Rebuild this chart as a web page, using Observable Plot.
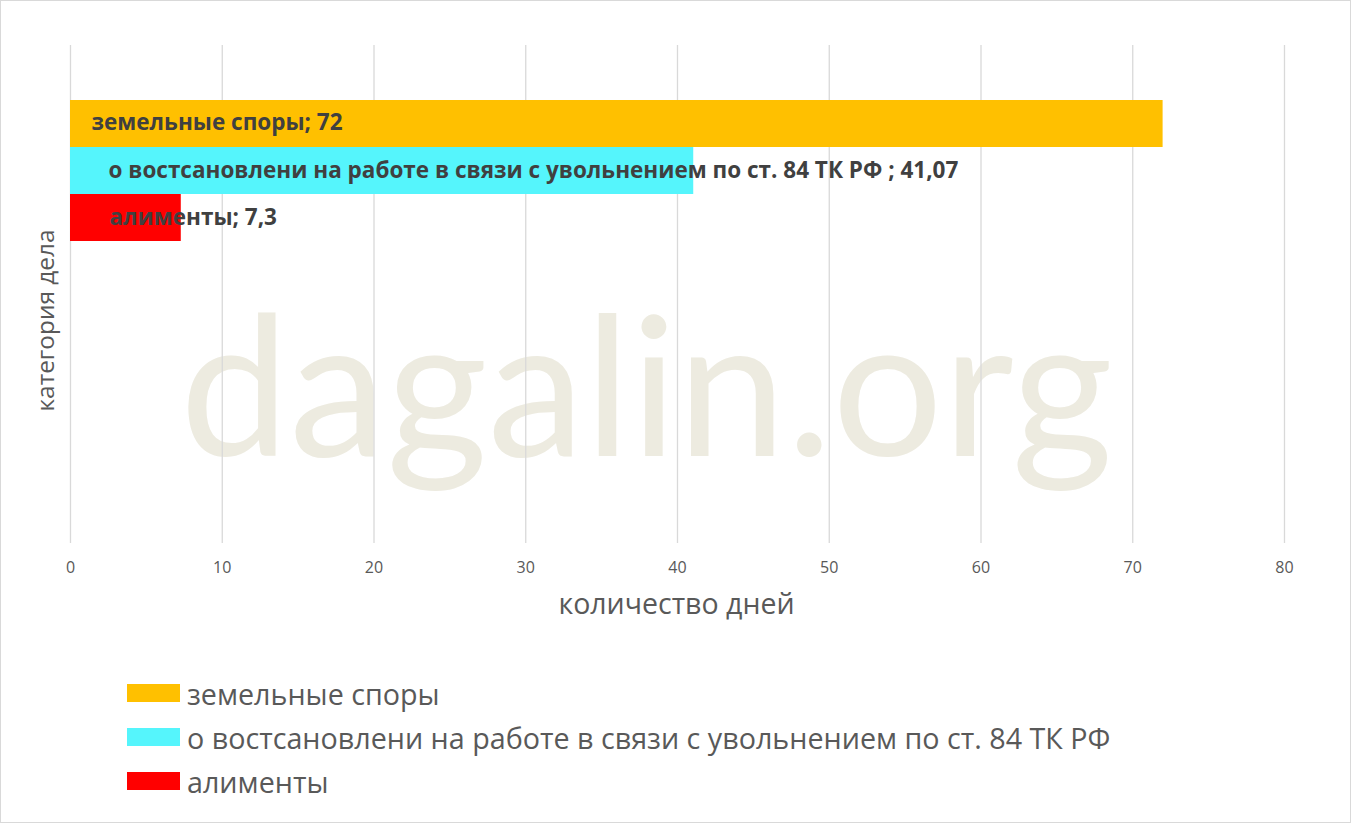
<!DOCTYPE html>
<html>
<head>
<meta charset="utf-8">
<script src="https://cdn.jsdelivr.net/npm/d3@7"></script>
<script src="https://cdn.jsdelivr.net/npm/@observablehq/plot@0.6"></script>
<style>
  html, body { margin: 0; padding: 0; background: #fff; }
  #wrap { position: relative; width: 1351px; height: 823px; background: #fff; overflow: hidden; }
  #frame { position: absolute; left: 0; top: 0; width: 1351px; height: 823px; box-sizing: border-box; border: 1px solid #d9d9d9; pointer-events: none; }
  #legend { position: absolute; left: 127px; top: 671px; font-family: "Open Sans", sans-serif; font-size: 28.7px; color: #595959; }
  .row { display: flex; align-items: center; height: 44px; }
  .sw { width: 53px; height: 18px; margin-right: 7px; flex: none; }
</style>
</head>
<body>
<div id="wrap">
  <div id="chart"></div>
  <div id="legend"></div>
  <div id="frame"></div>
</div>
<script>
const categories = [
  "земельные споры",
  "о востсановлени на работе в связи с увольнением по ст. 84 ТК РФ ",
  "алименты"
];
const values = [72, 41.07, 7.3];
const colors = ["#FFC000", "#55F5FC", "#FF0000"];
const xTicks = [0, 10, 20, 30, 40, 50, 60, 70, 80];
const xTitle = "количество дней";
const yTitle = "категория дела";
const watermark = "dagalin.org";

const data = categories.map((c, i) => ({category: c, value: values[i], color: colors[i]}));
const fmt = v => String(v).replace(".", ",");
const labelOf = d => `${d.category}; ${fmt(d.value)}`;

const labelStyle = {fontSize: 22.5, fontWeight: "bold", fill: "#404040", textAnchor: "start"};

const chart = Plot.plot({
  width: 1351,
  height: 640,
  marginLeft: 70,
  marginRight: 67,
  marginTop: 45,
  marginBottom: 97,
  style: {fontFamily: "'Open Sans', sans-serif", background: "transparent"},
  x: {domain: [0, 80], axis: null},
  y: {domain: categories, range: [99, 241], padding: 0, axis: null},
  marks: [
    Plot.text([watermark], {frameAnchor: "middle", text: d => d, fontSize: 195, fontFamily: "Lato, 'Open Sans', sans-serif", fill: "#EDEBE0", dx: -31, dy: 99}),
    Plot.ruleX(xTicks, {stroke: "#d9d9d9", strokeWidth: 1.3}),
    Plot.barX(data, {x: "value", y: "category", fill: "color"}),
    Plot.axisX(xTicks, {ticks: xTicks, tickSize: 0, tickPadding: 18, fontSize: 16, color: "#595959", label: null}),
    Plot.text(data.filter((d, i) => i === 0), {x: 0, y: "category", text: labelOf, dx: 21, dy: -1, ...labelStyle}),
    Plot.text(data.filter((d, i) => i === 1), {x: 0, y: "category", text: labelOf, dx: 38, ...labelStyle}),
    Plot.text(data.filter((d, i) => i === 2), {x: 0, y: "category", text: labelOf, dx: 39, ...labelStyle}),
    Plot.text([xTitle], {frameAnchor: "bottom", text: d => d, fontSize: 28.5, fill: "#595959", dx: -1, dy: 70}),
    Plot.text([yTitle], {frameAnchor: "left", textAnchor: "middle", text: d => d, fontSize: 24.4, fill: "#595959", rotate: -90, dx: -24, dy: 26})
  ]
});
document.getElementById("chart").appendChild(chart);

const legend = document.getElementById("legend");
data.forEach(d => {
  const row = document.createElement("div");
  row.className = "row";
  const sw = document.createElement("span");
  sw.className = "sw";
  sw.style.background = d.color;
  const tx = document.createElement("span");
  tx.textContent = d.category;
  row.appendChild(sw);
  row.appendChild(tx);
  legend.appendChild(row);
});
</script>
</body>
</html>
